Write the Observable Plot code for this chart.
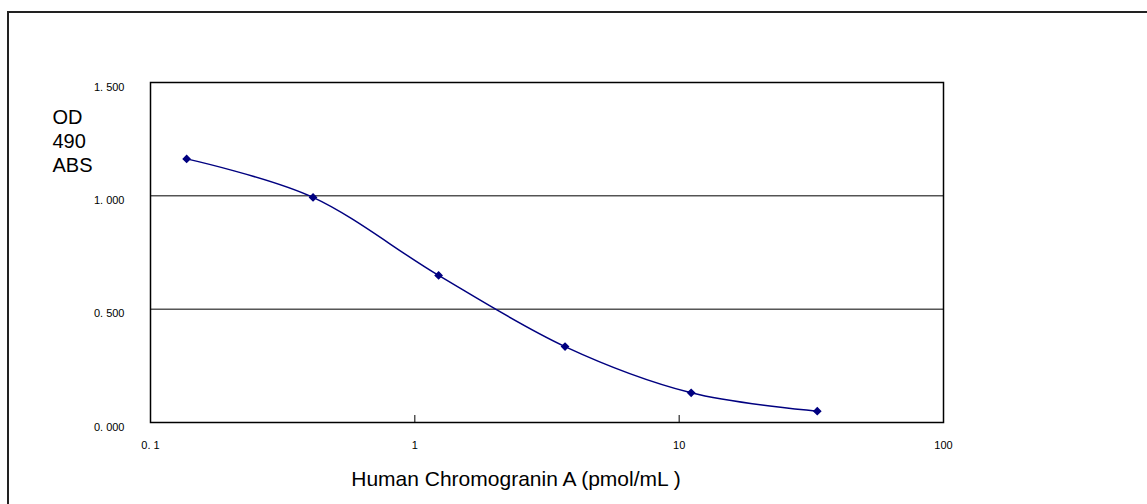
<!DOCTYPE html>
<html><head><meta charset="utf-8">
<script src="https://cdn.jsdelivr.net/npm/d3@7"></script>
<script src="https://cdn.jsdelivr.net/npm/@observablehq/plot@0.6"></script>
<style>
body{margin:0;background:#fff;overflow:hidden;}
#wrap{position:relative;width:1147px;height:504px;overflow:hidden;background:#fff;}
#border{position:absolute;left:7px;top:11px;width:2000px;height:2000px;border-left:2px solid #222;border-top:2px solid #222;pointer-events:none;z-index:2;}
#wrap svg{position:absolute;left:0;top:0;}
</style></head><body><div id="wrap"><div id="border"></div></div>
<script>
const concentrations = [0.137, 0.412, 1.23, 3.70, 11.1, 33.3];
const odValues = [1.163, 0.993, 0.649, 0.335, 0.131, 0.050];
const yTicks = [0, 0.5, 1.0, 1.5];
const xTicks = [0.1, 1, 10, 100];
const minorTicks = [1, 10];
const gridValues = [0.5, 1.0];
const yTitle = "OD\n490\nABS";
const xTitle = "Human Chromogranin A (pmol/mL )";

const data = concentrations.map((x, i) => ({x, y: odValues[i]}));
const fmtY = d => d3.format(".3f")(d).replace(".", ". ");
const fmtX = d => String(d).replace(".", ". ");

const chart = Plot.plot({
  width: 1147, height: 504,
  marginLeft: 150, marginRight: 204, marginTop: 82, marginBottom: 82,
  style: {fontFamily: "Arial, 'Liberation Sans', sans-serif", fontSize: "11px", background: "transparent", color: "#000"},
  x: {type: "log", domain: [0.1, 100]},
  y: {domain: [0, 1.5]},
  marks: [
    Plot.ruleY(gridValues, {stroke: "#000", strokeWidth: 1}),
    Plot.tickX(minorTicks, {x: d => d, insetTop: 333, stroke: "#000"}),
    Plot.frame({stroke: "#000", strokeWidth: 1.5}),
    Plot.axisY(yTicks, {tickSize: 0, tickPadding: 26, tickFormat: fmtY, label: null, dy: 4.5}),
    Plot.axisX(xTicks, {tickSize: 0, tickPadding: 19, tickFormat: fmtX, label: null}),
    Plot.line(data, {x: "x", y: "y", curve: "cardinal", stroke: "#000080", strokeWidth: 1.5}),
    Plot.dot(data, {x: "x", y: "y", symbol: "diamond2", r: 3, fill: "#000080", stroke: "#000080"}),
    Plot.text([yTitle], {frameAnchor: "top-left", dx: -98, dy: 58, textAnchor: "start", lineAnchor: "middle", lineHeight: 1.2, fontSize: 20}),
    Plot.text([xTitle], {frameAnchor: "bottom", dx: -31, dy: 57, lineAnchor: "middle", fontSize: 21})
  ]
});
document.getElementById("wrap").appendChild(chart);
</script></body></html>
